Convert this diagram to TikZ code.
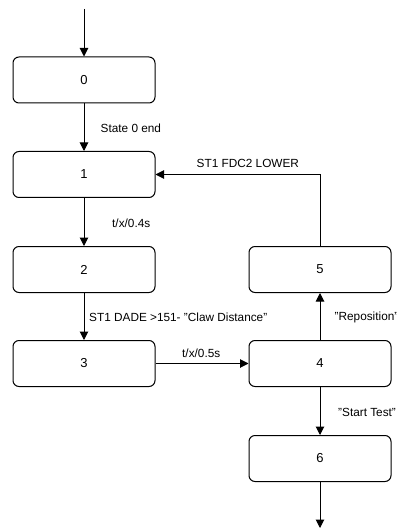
\documentclass[tikz,border=0pt]{standalone}
\usepackage{fontspec}
\setmainfont{Liberation Sans}
\usetikzlibrary{arrows.meta}
\begin{document}
\begin{tikzpicture}[x=1pt,y=-1pt,
  state/.style={draw, line width=1pt, rounded corners=6pt, minimum width=142pt,
    minimum height=46pt, inner sep=0pt, font=\fontsize{13}{15}\selectfont},
  conn/.style={line width=1pt, -{Triangle[length=8.5pt,width=8.5pt]}},
  lbl/.style={font=\fontsize{11.8}{14}\selectfont, inner sep=0pt, anchor=west}]
  \useasboundingbox (0,0) rectangle (396,529);
  % states
  \node[state] (s0) at (84,80) {0};
  \node[state] (s1) at (84,174.5) {1};
  \node[state] (s2) at (84,269.5) {2};
  \node[state] (s3) at (84,363.5) {3};
  \node[state] (s4) at (320,363.5) {4};
  \node[state] (s5) at (320,269.5) {5};
  \node[state] (s6) at (320,458.5) {6};
  \coordinate (in) at (84,9);
  \coordinate (out) at (320,528);
  % transitions
  \draw[conn] (in) -- (s0);
  \draw[conn] (s0) -- (s1);
  \draw[conn] (s1) -- (s2);
  \draw[conn] (s2) -- (s3);
  \draw[conn] (s3) -- (s4);
  \draw[conn] (s4) -- (s5);
  \draw[conn] (s4) -- (s6);
  \draw[conn] (s6) -- (out);
  \draw[conn] (s5.north) |- (s1.east);
  % transition labels
  \node[lbl] (l01) at (100.5,128) {State 0 end};
  \node[lbl] (l12) at (112,223) {t/x/0.4s};
  \node[lbl] (l23) at (89,317) {ST1 DADE >151- "Claw Distance"};
  \node[lbl] (l34) at (182,353) {t/x/0.5s};
  \node[lbl] (l45) at (334.5,317) {"Reposition"};
  \node[lbl] (l46) at (338,412) {"Start Test"};
  \node[lbl] (l51) at (196.5,163) {ST1 FDC2 LOWER};
\end{tikzpicture}
\end{document}
